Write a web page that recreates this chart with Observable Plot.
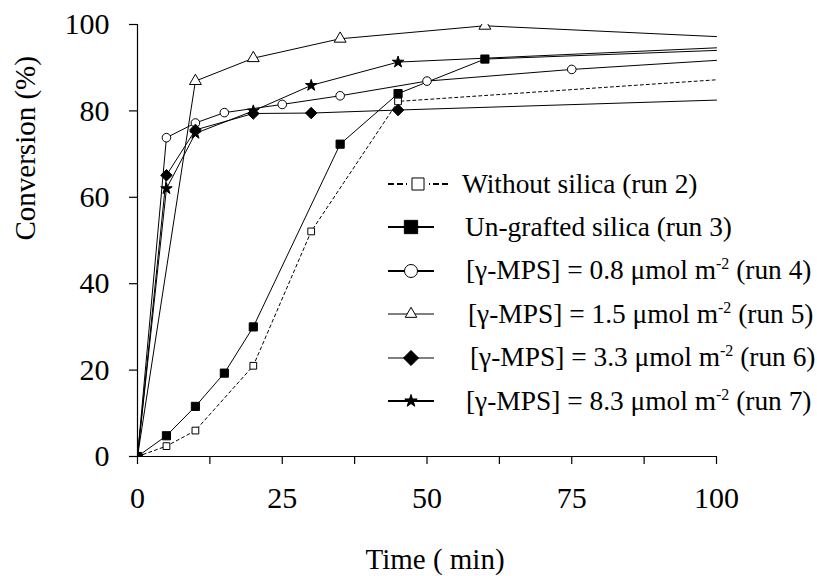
<!DOCTYPE html>
<html>
<head>
<meta charset="utf-8">
<script src="https://cdn.jsdelivr.net/npm/d3@7"></script>
<script src="https://cdn.jsdelivr.net/npm/@observablehq/plot@0.6"></script>
<style>
  html, body { margin: 0; padding: 0; background: #fff; }
  #wrap { position: relative; width: 817px; height: 576px; font-family: 'Liberation Serif', serif; color: #000; }
  #wrap svg text { font-family: 'Liberation Serif', serif !important; }
  #legend { position: absolute; left: 0; top: 0; }
  .row { position: absolute; display: flex; align-items: center; height: 40px; font-size: 27.4px; white-space: nowrap; font-family: 'Liberation Serif', serif; }
  .row sup { font-size: 16px; vertical-align: 0; position: relative; top: -10px; }
</style>
</head>
<body>
<div id="wrap"><div id="chart"></div><div id="legend"></div></div>
<script>
// ---- data ----
const xTicks = [0, 25, 50, 75, 100];
const xMinorTicks = [12.5, 37.5, 62.5, 87.5];
const yTicks = [0, 20, 40, 60, 80, 100];

const run2Time = [0, 5, 10, 20, 30, 45, 100];
const run2Conv = [0, 2.4, 6.0, 21.0, 52.1, 82.2, 87.2];

const run3Time = [0, 5, 10, 15, 20, 35, 45, 60, 100];
const run3Conv = [0, 4.8, 11.6, 19.3, 30.0, 72.3, 84.0, 92.0, 94.0];

const run4Time = [0, 5, 10, 15, 25, 35, 50, 75, 100];
const run4Conv = [0, 73.8, 77.2, 79.6, 81.5, 83.5, 86.9, 89.6, 91.7];

const run5Time = [0, 10, 20, 35, 60, 100];
const run5Conv = [0, 86.9, 92.2, 96.7, 99.7, 97.2];

const run6Time = [0, 5, 10, 20, 30, 45, 100];
const run6Conv = [0, 65.1, 75.6, 79.4, 79.5, 80.2, 82.5];

const run7Time = [0, 5, 10, 20, 30, 45, 100];
const run7Conv = [0, 62.0, 74.8, 80.0, 85.9, 91.3, 94.6];

const seriesNames = [
  "Without silica (run 2)",
  "Un-grafted silica (run 3)",
  "[γ-MPS] = 0.8 μmol m-2 (run 4)",
  "[γ-MPS] = 1.5 μmol m-2 (run 5)",
  "[γ-MPS] = 3.3 μmol m-2 (run 6)",
  "[γ-MPS] = 8.3 μmol m-2 (run 7)"
];

const FONT = "'Liberation Serif', serif";

// ---- styles ----
const styles = [
  {time: run2Time, conv: run2Conv, symbol: "square", fill: "white", r: 3.8, dash: "3,3", legR: 6.8, legW: 1.8},
  {time: run3Time, conv: run3Conv, symbol: "square", fill: "black", r: 4.6, dash: null, legR: 7.5, legW: 2},
  {time: run4Time, conv: run4Conv, symbol: "circle", fill: "white", r: 4.3, dash: null, legR: 6.5, legW: 2},
  {time: run5Time, conv: run5Conv, symbol: "triangle", fill: "white", r: 4.4, dash: null, legR: 4.3, legW: 1},
  {time: run6Time, conv: run6Conv, symbol: "diamond2", fill: "black", r: 5.2, dash: null, legR: 6.8, legW: 1.2},
  {time: run7Time, conv: run7Conv, symbol: "star", fill: "black", r: 3.6, dash: null, legR: 3.9, legW: 2}
];

const table = styles.flatMap((s, i) => s.time.map((t, j) => ({run: i, t, y: s.conv[j]})));

const marks = [];
styles.forEach((s, i) => {
  marks.push(Plot.line(table.filter(d => d.run === i), {
    x: "t", y: "y", stroke: "black", strokeWidth: 1, strokeDasharray: s.dash || undefined
  }));
});
styles.forEach((s, i) => {
  marks.push(Plot.dot(table.filter(d => d.run === i && d.t < 100), {
    x: "t", y: "y", symbol: () => s.symbol, fill: s.fill, stroke: "black", strokeWidth: 1, r: s.r, clip: true
  }));
});

const chart = Plot.plot({
  width: 817,
  height: 576,
  marginLeft: 137,
  marginRight: 101,
  marginTop: 24,
  marginBottom: 120,
  style: {fontFamily: FONT, color: "black", background: "white"},
  x: {domain: [0, 100]},
  y: {domain: [0, 100]},
  marks: [
    Plot.axisX(xTicks, {tickSize: 8, tickPadding: 22, fontSize: 30, fontFamily: FONT, label: null, strokeWidth: 1.2}),
    Plot.axisX(xMinorTicks, {tickSize: 8, tickFormat: () => "", label: null, strokeWidth: 1.2}),
    Plot.axisY(yTicks, {tickSize: 8, tickPadding: 20, fontSize: 30, fontFamily: FONT, label: null, strokeWidth: 1.2}),
    Plot.ruleY([0], {stroke: "black", strokeWidth: 1.2}),
    Plot.ruleX([0], {stroke: "black", strokeWidth: 1.2}),
    ...marks,
    Plot.text(["Conversion (%)"], {frameAnchor: "left", rotate: -90, dx: -112, fontSize: 29, fontFamily: FONT, fill: "black"}),
    Plot.text(["Time ( min)"], {frameAnchor: "bottom", lineAnchor: "middle", dy: 103, dx: 8, fontSize: 29, fontFamily: FONT, fill: "black"})
  ]
});
document.getElementById("chart").appendChild(chart);

// ---- legend ----
const legend = d3.select("#legend");
const symMap = {square: d3.symbolSquare, circle: d3.symbolCircle, triangle: d3.symbolTriangle, diamond2: d3.symbolDiamond2, star: d3.symbolStar};
const rowTop = 164, rowStep = 43.4;
const textLeft = [462, 465, 466, 468, 470, 466];
seriesNames.forEach((name, i) => {
  const s = styles[i];
  const row = legend.append("div").attr("class", "row")
    .style("left", "386px").style("top", (rowTop + i * rowStep) + "px");
  const w = textLeft[i] - 386;
  const svg = row.append("svg").attr("width", w).attr("height", 40).style("flex", "none");
  const cx = i === 0 ? 32 : 25;
  const half = i === 0 ? 30 : 23;
  svg.append("line").attr("x1", cx - half).attr("x2", cx + half).attr("y1", 20).attr("y2", 20)
    .attr("stroke", "black").attr("stroke-width", s.legW)
    .attr("stroke-dasharray", s.dash ? "6,3" : null);
  if (i === 0) {
    svg.append("rect").attr("x", cx - 11).attr("y", 10).attr("width", 22).attr("height", 20).attr("fill", "white");
  }
  svg.append("path")
    .attr("transform", `translate(${cx},20)`)
    .attr("d", d3.symbol(symMap[s.symbol], s.legR * s.legR * Math.PI)())
    .attr("fill", s.fill).attr("stroke", "black").attr("stroke-width", 1);
  const span = row.append("span");
  const m = name.match(/^(.*m)-2(.*)$/);
  if (m) {
    span.append("span").text(m[1]);
    span.append("sup").text("-2");
    span.append("span").text(m[2]);
  } else {
    span.text(name);
  }
});
</script>
</body>
</html>
